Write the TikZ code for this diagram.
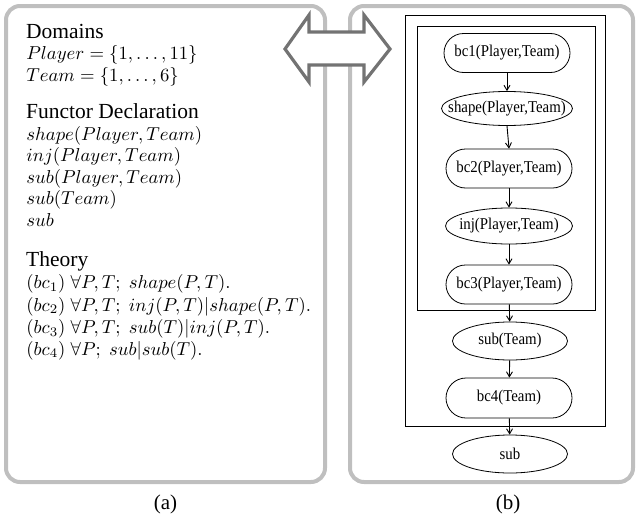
\documentclass[tikz,border=0pt]{standalone}
\usepackage[no-math]{fontspec}
\setmainfont{Liberation Serif}
\newfontfamily\nodefont[FakeStretch=0.9]{Liberation Serif}
\usetikzlibrary{shapes.geometric,shapes.misc,arrows.meta}
\begin{document}
\begin{tikzpicture}[x=1pt,y=-1pt,
  panel/.style={draw=black!25,line width=4pt,rounded corners=14pt},
  dbl/.style={draw=black!55,line width=3.2pt,fill=white,line join=miter},
  frame/.style={draw=black,line width=0.9pt},
  pnode/.style={draw,rounded rectangle,minimum width=126pt,minimum height=39pt,inner sep=0pt,font=\nodefont\fontsize{16.5}{18}\selectfont,line width=0.8pt},
  vnode/.style={draw,ellipse,inner sep=0pt,font=\nodefont\fontsize{16.5}{18}\selectfont,line width=0.8pt},
  conn/.style={-{Straight Barb[length=5pt,width=6pt]},line width=0.9pt},
  ltext/.style={anchor=base west,inner sep=0pt,font=\fontsize{21.5}{24}\selectfont},
  mtext/.style={anchor=base west,inner sep=0pt,scale=1.87,font=\fontsize{10}{12}\selectfont},
  captext/.style={anchor=base,inner sep=0pt,font=\fontsize{21}{23}\selectfont}]
\useasboundingbox (0,0) rectangle (637,522);
% panels
\draw[panel] (6,6) rectangle (325,482);
\draw[panel] (350,6) rectangle (633,482);
% double arrow
\draw[dbl] (285,49) -- (309,15) -- (309,32) -- (364,32) -- (364,15) -- (390,49) -- (364,82) -- (364,65) -- (309,65) -- (309,82) -- cycle;
% left text
\node[ltext] (d) at (26,38.3) {Domains};
\node[mtext] (dp) at (26,59.5) {$Player=\{1,\ldots,11\}$};
\node[mtext] (dt) at (26,81.5) {$Team=\{1,\ldots,6\}$};
\node[ltext] (f) at (26,118.3) {Functor Declaration};
\node[mtext] (f1) at (26,140) {$shape(Player,Team)$};
\node[mtext] (f2) at (26,161.5) {$inj(Player,Team)$};
\node[mtext] (f3) at (26,183) {$sub(Player,Team)$};
\node[mtext] (f4) at (26,204.5) {$sub(Team)$};
\node[mtext] (f5) at (26,226) {$sub$};
\node[ltext] (t) at (26,266) {Theory};
\node[mtext] (t1) at (26,288.5) {$(bc_1)\;\forall P,T;\; shape(P,T).$};
\node[mtext] (t2) at (26,311) {$(bc_2)\;\forall P,T;\; inj(P,T)|shape(P,T).$};
\node[mtext] (t3) at (26,333.3) {$(bc_3)\;\forall P,T;\; sub(T)|inj(P,T).$};
\node[mtext] (t4) at (26,355) {$(bc_4)\;\forall P;\; sub|sub(T).$};
% frames
\draw[frame] (405,15) rectangle (605,426);
\draw[frame] (417,26) rectangle (595,310);
% nodes
\node[pnode] (bc1) at (507,53) {\makebox[0pt]{bc1(Player,Team)}};
\node[vnode,minimum width=131pt,minimum height=34pt] (shape) at (507,108.5) {\makebox[0pt]{shape(Player,Team)}};
\node[pnode] (bc2) at (509,168.5) {\makebox[0pt]{bc2(Player,Team)}};
\node[vnode,minimum width=127pt,minimum height=36pt] (inj) at (509,226) {\makebox[0pt]{inj(Player,Team)}};
\node[pnode] (bc3) at (509,284.5) {\makebox[0pt]{bc3(Player,Team)}};
\node[vnode,minimum width=115pt,minimum height=38pt] (subT) at (510,341) {\makebox[0pt]{sub(Team)}};
\node[pnode,minimum height=40pt] (bc4) at (509,398) {\makebox[0pt]{bc4(Team)}};
\node[vnode,minimum width=115pt,minimum height=38pt] (sub) at (510,454) {\makebox[0pt]{sub}};
\draw[conn] (bc1.south) -- (shape.north);
\draw[conn] (shape.south) -- (bc2.north);
\draw[conn] (bc2) -- (inj);
\draw[conn] (inj) -- (bc3);
\draw[conn] (bc3) -- (subT);
\draw[conn] (subT) -- (bc4);
\draw[conn] (bc4) -- (sub);
% captions
\node[captext] (ca) at (165.5,509) {(a)};
\node[captext] (cb) at (508,509) {(b)};
\end{tikzpicture}
\end{document}
